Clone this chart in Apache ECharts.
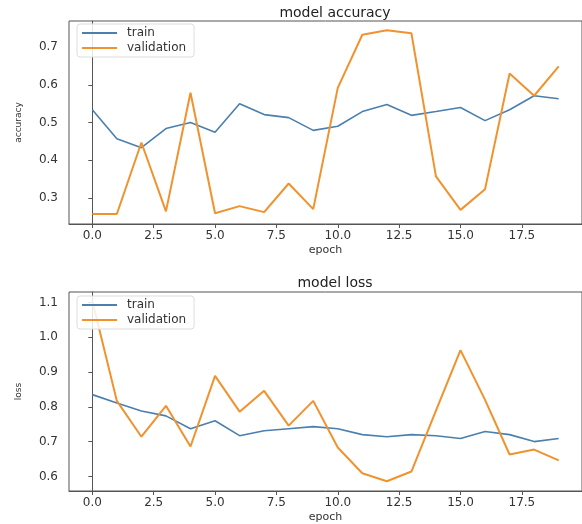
<!DOCTYPE html>
<html><head><meta charset="utf-8">
<script src="https://cdn.jsdelivr.net/npm/echarts@6/dist/echarts.min.js"></script>
<style>html,body{margin:0;padding:0;background:#fff}#c{width:582px;height:524px}</style>
</head><body><div id="c"></div>
<script>
const epochs = [0,1,2,3,4,5,6,7,8,9,10,11,12,13,14,15,16,17,18,19];
const accTrain = [0.534,0.457,0.433,0.484,0.500,0.474,0.550,0.521,0.513,0.479,0.490,0.529,0.548,0.519,0.529,0.540,0.505,0.534,0.571,0.563];
const accVal = [0.257,0.257,0.447,0.264,0.579,0.259,0.278,0.262,0.338,0.270,0.592,0.733,0.745,0.737,0.357,0.268,0.323,0.630,0.571,0.649];
const lossTrain = [0.835,0.811,0.788,0.774,0.737,0.760,0.717,0.731,0.737,0.743,0.737,0.720,0.714,0.720,0.717,0.709,0.729,0.720,0.700,0.709];
const lossVal = [1.105,0.817,0.714,0.803,0.686,0.889,0.786,0.846,0.746,0.817,0.683,0.609,0.586,0.614,0.789,0.963,0.820,0.663,0.677,0.646];
const xTicks = [0,2.5,5,7.5,10,12.5,15,17.5];
const accTicks = [0.3,0.4,0.5,0.6,0.7];
const lossTicks = [0.6,0.7,0.8,0.9,1.0,1.1];

const F = 'DejaVu Sans';
const C_TRAIN = '#4a7fae';
const C_VAL = '#f0922e';
const pairs = (xs, ys) => xs.map((x,i)=>[x, ys[i]]);

function xAxis(gi){
  return {
    type:'value', gridIndex:gi, min:-0.95, max:19.95,
    name:'epoch', nameLocation:'middle', nameGap:21,
    nameTextStyle:{fontFamily:F,fontSize:11,color:'#333'},
    splitLine:{show:false},
    axisLine:{show:true,lineStyle:{color:'#555',width:1}},
    axisTick:{show:true,customValues:xTicks,length:4,lineStyle:{color:'#555'}},
    axisLabel:{customValues:xTicks,fontFamily:F,fontSize:12,color:'#333',margin:6,
      formatter:v=>Number(v).toFixed(1)}
  };
}
function yAxis(gi,min,max,ticks,name){
  return {
    type:'value', gridIndex:gi, min:min, max:max,
    name:name, nameLocation:'middle', nameGap:46,
    nameTextStyle:{fontFamily:F,fontSize:9,color:'#333'},
    splitLine:{show:false},
    axisLine:{show:true,lineStyle:{color:'#555',width:1}},
    axisTick:{show:true,customValues:ticks,length:4,lineStyle:{color:'#555'}},
    axisLabel:{customValues:ticks,fontFamily:F,fontSize:12,color:'#333',margin:11,
      formatter:v=>Number(v).toFixed(1)}
  };
}
function legend(top){
  return {
    orient:'vertical', left:77, top:top, data:['train','validation'],
    icon:'rect', itemWidth:35, itemHeight:2, itemGap:1,
    padding:[2,8,2,5],
    borderColor:'#ddd', borderWidth:1, borderRadius:3, backgroundColor:'rgba(255,255,255,0.85)',
    textStyle:{fontFamily:F,fontSize:12,color:'#333',lineHeight:14,padding:[0,0,0,5]},
    selectedMode:false
  };
}
const chart = echarts.init(document.getElementById('c'), null, {renderer:'canvas'});
chart.setOption({
  animation:false,
  backgroundColor:'#fff',
  title:[
    {text:'model accuracy', left:330, top:1, textAlign:'center', textStyle:{fontFamily:F,fontSize:14,fontWeight:'normal',color:'#222'}},
    {text:'model loss', left:330, top:271, textAlign:'center', textStyle:{fontFamily:F,fontSize:14,fontWeight:'normal',color:'#222'}}
  ],
  grid:[
    {left:69, right:-6, top:21, bottom:300, show:true, borderColor:'#555', borderWidth:1},
    {left:69, right:-6, top:292, bottom:29, show:true, borderColor:'#555', borderWidth:1}
  ],
  legend:[legend(24), legend(296)],
  xAxis:[xAxis(0), xAxis(1)],
  yAxis:[yAxis(0,0.2305,0.7695,accTicks,'accuracy'), yAxis(1,0.558,1.13,lossTicks,'loss')],
  series:[
    {name:'train', type:'line', xAxisIndex:0, yAxisIndex:0, data:pairs(epochs,accTrain), showSymbol:false, lineStyle:{color:C_TRAIN,width:1.6}, itemStyle:{color:C_TRAIN}},
    {name:'validation', type:'line', xAxisIndex:0, yAxisIndex:0, data:pairs(epochs,accVal), showSymbol:false, lineStyle:{color:C_VAL,width:2}, itemStyle:{color:C_VAL}},
    {name:'train', type:'line', xAxisIndex:1, yAxisIndex:1, data:pairs(epochs,lossTrain), showSymbol:false, lineStyle:{color:C_TRAIN,width:1.6}, itemStyle:{color:C_TRAIN}},
    {name:'validation', type:'line', xAxisIndex:1, yAxisIndex:1, data:pairs(epochs,lossVal), showSymbol:false, lineStyle:{color:C_VAL,width:2}, itemStyle:{color:C_VAL}}
  ]
});
</script></body></html>
